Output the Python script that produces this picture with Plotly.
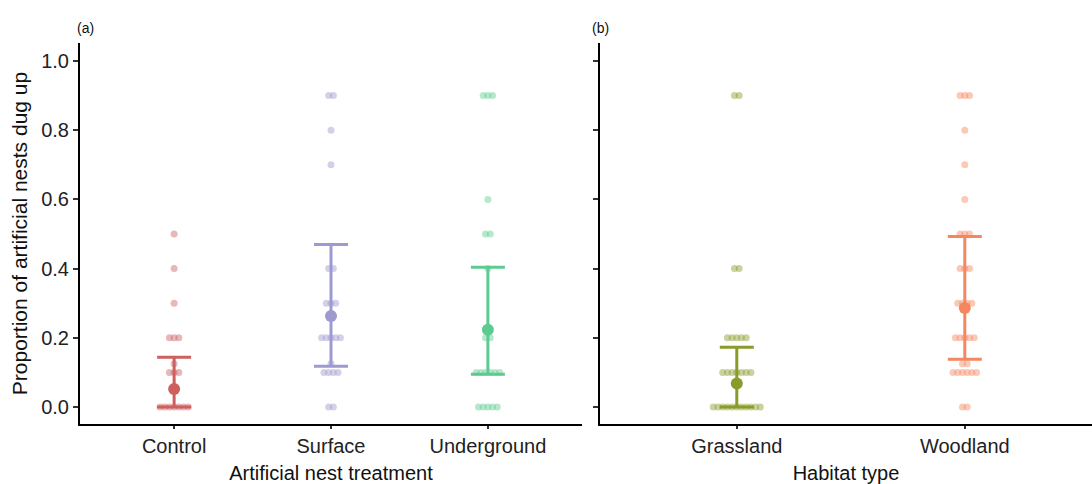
import numpy as np
import plotly.graph_objects as go

# ---------------- data ----------------
treat_categories = ["Control", "Surface", "Underground"]
habitat_categories = ["Grassland", "Woodland"]

control_vals = [0.5, 0.4, 0.3, 0.2, 0.2, 0.2, 0.125, 0.1, 0.1, 0.1,
                0, 0, 0, 0, 0, 0, 0]
surface_vals = [0.9, 0.9, 0.8, 0.7, 0.4, 0.4, 0.3, 0.3, 0.3,
                0.2, 0.2, 0.2, 0.2, 0.2, 0.125, 0.1, 0.1, 0.1, 0.1, 0, 0]
underground_vals = [0.9, 0.9, 0.9, 0.6, 0.5, 0.5, 0.4, 0.2, 0.2,
                    0.1, 0.1, 0.1, 0.1, 0.1, 0.1, 0, 0, 0, 0, 0]
grassland_vals = [0.9, 0.9, 0.4, 0.4, 0.2, 0.2, 0.2, 0.2, 0.2,
                  0.1, 0.1, 0.1, 0.1, 0.1, 0.1, 0.1,
                  0, 0, 0, 0, 0, 0, 0, 0, 0, 0, 0]
woodland_vals = [0.9, 0.9, 0.9, 0.8, 0.7, 0.6, 0.5, 0.5, 0.5,
                 0.4, 0.4, 0.4, 0.3, 0.3, 0.3, 0.3,
                 0.2, 0.2, 0.2, 0.2, 0.2, 0.125, 0.125,
                 0.1, 0.1, 0.1, 0.1, 0.1, 0.1, 0, 0]

treat_mean = [0.052, 0.263, 0.223]
treat_lo = [0.0, 0.118, 0.095]
treat_hi = [0.144, 0.470, 0.404]
habitat_mean = [0.068, 0.286]
habitat_lo = [0.0, 0.138]
habitat_hi = [0.173, 0.493]

treat_colors = ["#CD5F5F", "#9D9AD0", "#5DCB91"]
habitat_colors = ["#8A9B2A", "#F4875F"]

y_ticks = [0.0, 0.2, 0.4, 0.6, 0.8, 1.0]

# ---------------- figure ----------------
W, H = 1092, 484
ML, MR, MT, MB = 80, 0, 43, 60
PW = W - ML - MR
PH = H - MT - MB

ax1_px = (0, 502)
ax2_px = (520, PW)
x1_range = [0.4, 3.6]
x2_range = [0.4, 0.4 + (ax2_px[1] - ax2_px[0]) / 228.0]
px_per_unit1 = (ax1_px[1] - ax1_px[0]) / (x1_range[1] - x1_range[0])
px_per_unit2 = (ax2_px[1] - ax2_px[0]) / (x2_range[1] - x2_range[0])
DOT_SPACING = 4.7  # px between swarm dots


def swarm(vals, center, ppu):
    xs, ys = [], []
    vals = np.array(vals, dtype=float)
    for v in sorted(set(vals.tolist()), reverse=True):
        k = int(np.sum(np.isclose(vals, v)))
        offs = (np.arange(k) - (k - 1) / 2.0) * DOT_SPACING / ppu
        xs.extend((center + offs).tolist())
        ys.extend([v] * k)
    return xs, ys


fig = go.Figure()

treat_data = [control_vals, surface_vals, underground_vals]
for i, (vals, col) in enumerate(zip(treat_data, treat_colors)):
    xs, ys = swarm(vals, i + 1, px_per_unit1)
    fig.add_trace(go.Scatter(x=xs, y=ys, mode="markers", xaxis="x", yaxis="y",
                             marker=dict(size=7, color=col, opacity=0.45, line=dict(width=0)),
                             showlegend=False, hoverinfo="skip"))
for i, col in enumerate(treat_colors):
    m = treat_mean[i]
    fig.add_trace(go.Scatter(x=[i + 1], y=[m], mode="markers", xaxis="x", yaxis="y",
                             marker=dict(size=12, color=col),
                             error_y=dict(type="data", symmetric=False,
                                          array=[treat_hi[i] - m], arrayminus=[m - treat_lo[i]],
                                          color=col, thickness=3, width=17),
                             showlegend=False))

habitat_data = [grassland_vals, woodland_vals]
for i, (vals, col) in enumerate(zip(habitat_data, habitat_colors)):
    xs, ys = swarm(vals, i + 1, px_per_unit2)
    fig.add_trace(go.Scatter(x=xs, y=ys, mode="markers", xaxis="x2", yaxis="y2",
                             marker=dict(size=7, color=col, opacity=0.45, line=dict(width=0)),
                             showlegend=False, hoverinfo="skip"))
for i, col in enumerate(habitat_colors):
    m = habitat_mean[i]
    fig.add_trace(go.Scatter(x=[i + 1], y=[m], mode="markers", xaxis="x2", yaxis="y2",
                             marker=dict(size=12, color=col),
                             error_y=dict(type="data", symmetric=False,
                                          array=[habitat_hi[i] - m], arrayminus=[m - habitat_lo[i]],
                                          color=col, thickness=3, width=17),
                             showlegend=False))

FONT = "Liberation Sans, Arial, sans-serif"
y_range = [-17 / 346.0, 1 + 18 / 346.0]

common_x = dict(showline=True, linecolor="black", linewidth=2, showgrid=False, zeroline=False,
                ticks="outside", ticklen=3, tickwidth=1.5, tickcolor="#333333",
                tickfont=dict(size=20, color="#222222", family=FONT),
                title_font=dict(size=20, color="#111111", family=FONT), title_standoff=10)
common_y = dict(showline=True, linecolor="black", linewidth=2, showgrid=False, zeroline=False,
                ticks="outside", ticklen=5, tickwidth=2, tickcolor="#333333",
                tickvals=y_ticks, tickformat=".1f", range=y_range,
                tickfont=dict(size=20, color="#222222", family=FONT))

fig.update_layout(
    width=W, height=H,
    margin=dict(l=ML, r=MR, t=MT, b=MB, autoexpand=False),
    plot_bgcolor="white", paper_bgcolor="white",
    font=dict(family=FONT, color="#111111"),
    xaxis=dict(domain=[ax1_px[0] / PW, ax1_px[1] / PW], range=x1_range,
               tickvals=[1, 2, 3], ticktext=treat_categories,
               title_text="Artificial nest treatment", anchor="y", **common_x),
    xaxis2=dict(domain=[ax2_px[0] / PW, 1.0], range=x2_range,
                tickvals=[1, 2], ticktext=habitat_categories,
                title_text="Habitat type", anchor="y2", **common_x),
    yaxis=dict(anchor="x", title_text="Proportion of artificial nests dug up",
               title_font=dict(size=21, color="#111111", family=FONT), title_standoff=8,
               **common_y),
    yaxis2=dict(anchor="x2", showticklabels=False, **common_y),
    annotations=[
        dict(text="(a)", x=(75 - ML) / PW, y=1 + (MT - 18) / PH, xref="paper", yref="paper",
             showarrow=False, font=dict(size=14, color="#111111", family=FONT)),
        dict(text="(b)", x=(600 - ML) / PW, y=1 + (MT - 18) / PH, xref="paper", yref="paper",
             showarrow=False, font=dict(size=14, color="#111111", family=FONT)),
    ],
)

fig.write_html("out.html")
